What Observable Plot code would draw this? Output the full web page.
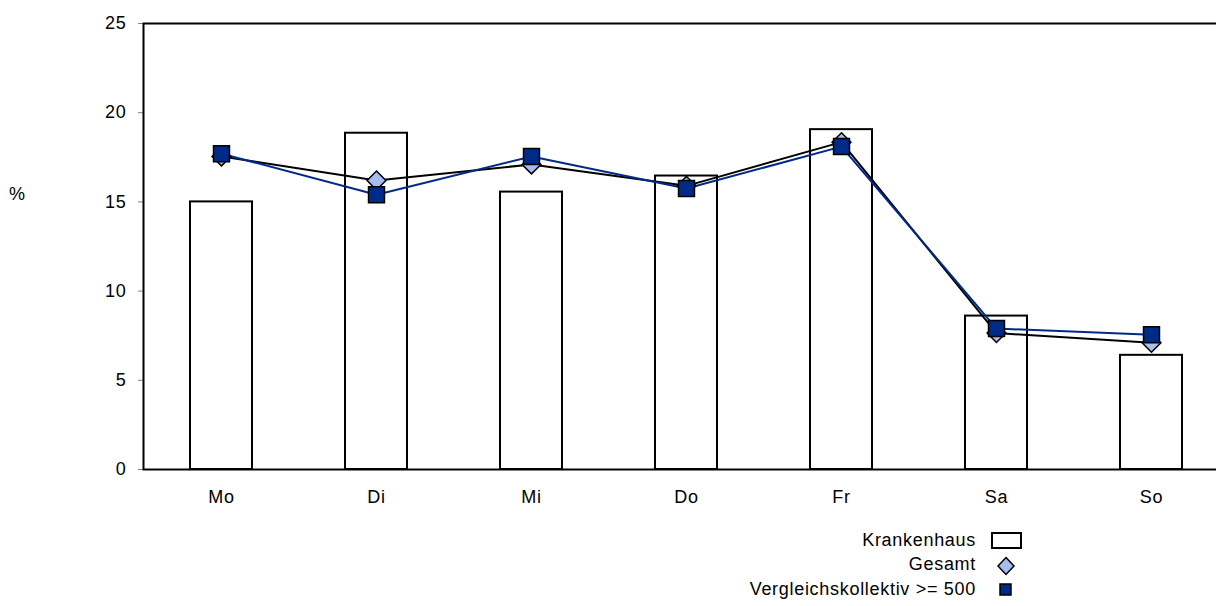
<!DOCTYPE html>
<html>
<head>
<meta charset="utf-8">
<script src="https://cdn.jsdelivr.net/npm/d3@7"></script>
<script src="https://cdn.jsdelivr.net/npm/@observablehq/plot@0.6"></script>
<style>
  html, body { margin: 0; padding: 0; background: white; overflow: hidden; }
  #wrap { position: relative; width: 1216px; height: 606px; font-family: "Liberation Sans", Arial, sans-serif; }
  .lg { position: absolute; left: 0; width: 976px; text-align: right; font-size: 18px; letter-spacing: 0.7px; line-height: 20px; color: black; }
  .sw { position: absolute; }
  #pct { position: absolute; left: 9px; top: 184px; font-size: 18px; }
  svg text { letter-spacing: 0.7px; }
</style>
</head>
<body>
<div id="wrap">
  <div id="chart"></div>
  <div id="pct">%</div>
  <div id="legend"></div>
</div>
<script>
const days = ["Mo", "Di", "Mi", "Do", "Fr", "Sa", "So"];
const krankenhaus = [15.0, 18.85, 15.55, 16.45, 19.05, 8.6, 6.4];
const gesamt = [17.55, 16.2, 17.1, 15.9, 18.35, 7.65, 7.1];
const vergleich = [17.7, 15.4, 17.55, 15.75, 18.1, 7.9, 7.55];
const yTicks = [0, 5, 10, 15, 20, 25];
const seriesNames = ["Krankenhaus", "Gesamt", "Vergleichskollektiv >= 500"];

const navy = "#002a88";
const lightBlue = "#a8bcf2";

const data = days.map((d, i) => ({day: d, k: krankenhaus[i], g: gesamt[i], v: vergleich[i]}));

const chart = Plot.plot({
  width: 1216,
  height: 520,
  marginLeft: 143,
  marginRight: -12,
  marginTop: 23,
  marginBottom: 51,
  style: {fontFamily: "'Liberation Sans', Arial, sans-serif", fontSize: "18px", background: "white"},
  x: {domain: days, paddingInner: 0.6, paddingOuter: 0.3, align: 0.5, label: null, axis: null},
  y: {domain: [0, 25], label: null, axis: null},
  marks: [
    Plot.barY(data, {x: "day", y: "k", fill: "white", stroke: "black", strokeWidth: 2, inset: 0}),
    Plot.axisY(yTicks, {tickSize: 5, tickPadding: 12, stroke: "#808080", fill: "black", label: null}),
    Plot.axisX({tickSize: 0, tickPadding: 21, fill: "black", label: null}),
    Plot.frame({stroke: "black", strokeWidth: 2}),
    Plot.line(data, {x: "day", y: "g", stroke: "black", strokeWidth: 2}),
    Plot.line(data, {x: "day", y: "v", stroke: navy, strokeWidth: 2}),
    Plot.dot(data, {x: "day", y: "g", symbol: "diamond2", r: 8.5, fill: lightBlue, stroke: "black", strokeWidth: 1.5}),
    Plot.dot(data, {x: "day", y: "v", symbol: "square", r: 9, fill: navy, stroke: "black", strokeWidth: 1.5})
  ]
});
document.getElementById("chart").appendChild(chart);

// Legend (below the SVG area, right-aligned labels with swatches)
const legend = document.getElementById("legend");
const rows = [
  {name: seriesNames[0], top: 530, sw: `<svg class="sw" style="left:991px;top:532px" width="31" height="18"><rect x="1" y="1" width="29" height="15" fill="white" stroke="black" stroke-width="2"/></svg>`},
  {name: seriesNames[1], top: 554, sw: `<svg class="sw" style="left:996px;top:556px" width="20" height="20"><path d="M10,1.5 L18,10 L10,18.5 L2,10 Z" fill="${lightBlue}" stroke="black" stroke-width="1.5"/></svg>`},
  {name: seriesNames[2], top: 579, sw: `<svg class="sw" style="left:999px;top:583px" width="14" height="14"><rect x="1" y="1" width="11" height="11" fill="${navy}" stroke="black" stroke-width="1.5"/></svg>`}
];
legend.innerHTML = rows.map(r => `<div class="lg" style="top:${r.top}px">${r.name.replace(">", "&gt;")}</div>${r.sw}`).join("");
</script>
</body>
</html>
